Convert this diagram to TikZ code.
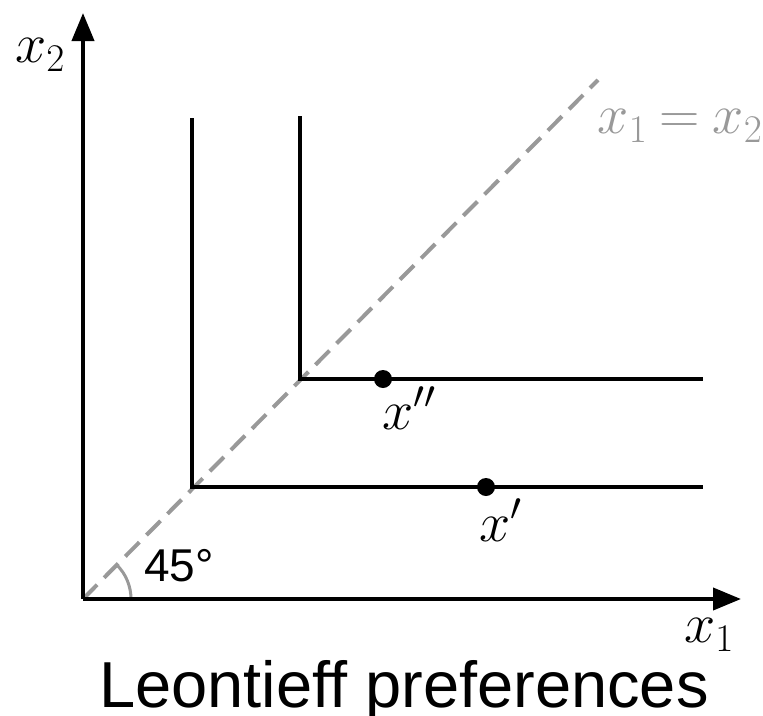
\RequirePackage{fix-cm}
\documentclass[tikz,border=0pt]{standalone}
\usepackage{fontspec}
\newfontfamily\sansfont{Liberation Sans}
\usetikzlibrary{arrows.meta}
\definecolor{dashgray}{gray}{0.6}
\tikzset{
  axis/.style={line width=4pt, -{Triangle[length=28pt,width=22pt]}},
  indiff/.style={line width=4.5pt, line cap=butt, line join=miter},
  diag/.style={line width=4pt, dashgray, dash pattern=on 20pt off 10pt},
  dot/.style={circle, fill=black, inner sep=0pt, minimum size=18pt},
  mlabel/.style={inner sep=0pt, font=\fontsize{56}{64}\selectfont},
}
\begin{document}
\begin{tikzpicture}[x=1pt,y=-1pt]
\useasboundingbox (0,0) rectangle (763,715);
\coordinate (O) at (83,599);
\coordinate (Xend) at (741,599);
\coordinate (Yend) at (83,13);
\coordinate (Dend) at (598,80);
% diagonal
\draw[diag] (O) -- (Dend);
% arc
\draw[dashgray, line width=3pt] ([xshift=48pt]O) arc[start angle=0, end angle=45, radius=48pt];
% indifference curves
\coordinate (A) at (192,487);
\coordinate (Atop) at (192,118);
\coordinate (Aend) at (703,487);
\coordinate (B) at (300,379);
\coordinate (Btop) at (300,116);
\coordinate (Bend) at (703,379);
\draw[indiff] (Atop) -- (A) -- (Aend);
\draw[indiff] (Btop) -- (B) -- (Bend);
% axes
\draw[axis] (O) -- (Xend);
\draw[axis] (O) -- (Yend);
% points
\node[dot] (p2) at (383,379) {};
\node[dot] (p1) at (486,487) {};
\node[mlabel] (l2) at (409,408) {$x''$};
\node[mlabel] (l1) at (501,520) {$x'$};
% labels
\node[mlabel] (lx2) at (40,55) {$x_2$};
\node[mlabel] (lx1) at (709,635) {$x_1$};
\node[mlabel, text=dashgray] (ldiag) at (680,126) {$x_1\mkern-1mu=\mkern-1mu x_2$};
\node[inner sep=0pt, font=\sansfont\fontsize{46}{52}\selectfont] (l45) at (179,566) {45°};
\node[inner sep=0pt, font=\sansfont\fontsize{65}{72}\selectfont, anchor=base] (title) at (404,707) {Leontieff preferences};
\end{tikzpicture}
\end{document}
